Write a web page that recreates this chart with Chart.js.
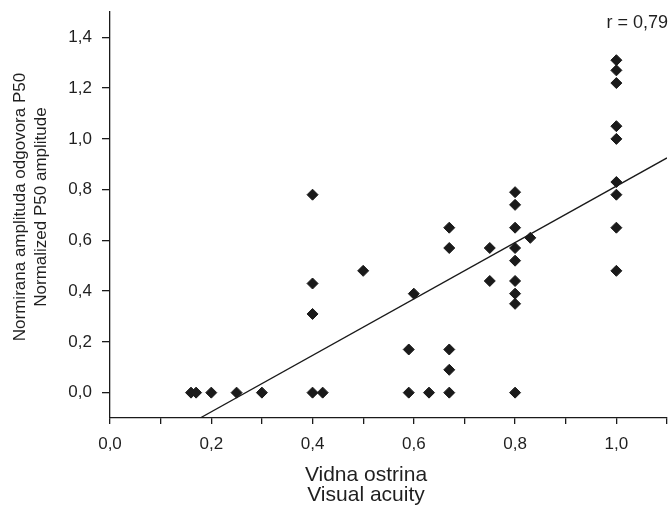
<!DOCTYPE html>
<html>
<head>
<meta charset="utf-8">
<script src="https://cdn.jsdelivr.net/npm/chart.js@4"></script>
<style>
  html, body { margin: 0; padding: 0; background: #fff; }
  #wrap { width: 670px; height: 506px; }
</style>
</head>
<body>
<div id="wrap"><canvas id="acuityChart" width="670" height="506"></canvas></div>
<script>
// visual acuity (x) vs normalized P50 amplitude (y)
const acuity = [0.16, 0.17, 0.20, 0.25, 0.30, 0.40, 0.42, 0.40, 0.40, 0.40, 0.50,
    0.59, 0.63, 0.67, 0.80, 0.59, 0.67, 0.67, 0.60, 0.67, 0.67, 0.75, 0.75,
    0.80, 0.80, 0.80, 0.80, 0.80, 0.80, 0.80, 0.80, 0.83,
    1.00, 1.00, 1.00, 1.00, 1.00, 1.00, 1.00, 1.00, 1.00];
const amplitude = [0, 0, 0, 0, 0, 0, 0, 0.78, 0.43, 0.31, 0.48,
    0, 0, 0, 0, 0.17, 0.17, 0.09, 0.39, 0.57, 0.65, 0.57, 0.44,
    0.79, 0.74, 0.65, 0.57, 0.52, 0.44, 0.39, 0.35, 0.61,
    1.31, 1.27, 1.22, 1.05, 1.00, 0.83, 0.78, 0.65, 0.48];

// regression line end points
const fitX = [0.178, 1.1];
const fitY = [-0.1, 0.925];

const xTicks = [0, 0.1, 0.2, 0.3, 0.4, 0.5, 0.6, 0.7, 0.8, 0.9, 1.0, 1.1];
const xTickLabels = ['0,0', '', '0,2', '', '0,4', '', '0,6', '', '0,8', '', '1,0', ''];
const yTicks = [0, 0.2, 0.4, 0.6, 0.8, 1.0, 1.2, 1.4];
const yTickLabels = ['0,0', '0,2', '0,4', '0,6', '0,8', '1,0', '1,2', '1,4'];

const xTitle = ['Vidna ostrina', 'Visual acuity'];
const yTitle = ['Normirana amplituda odgovora P50', 'Normalized P50 amplitude'];
const corrLabel = 'r = 0,79';

const ink = '#1a1a1a';
const textColor = '#1f1f1f';
const fontFamily = '"Liberation Sans", Arial, Helvetica, sans-serif';

const points = acuity.map((x, i) => ({ x: x, y: amplitude[i] }));
const fitLine = fitX.map((x, i) => ({ x: x, y: fitY[i] }));

// axis titles and the r value, placed like in the original figure
const textPlugin = {
    id: 'figureText',
    afterDraw(chart) {
        const ctx = chart.ctx;
        ctx.save();
        ctx.fillStyle = textColor;

        ctx.font = '18px ' + fontFamily;
        ctx.textAlign = 'right';
        ctx.textBaseline = 'alphabetic';
        ctx.fillText(corrLabel, 668, 28);

        ctx.font = '21px ' + fontFamily;
        ctx.textAlign = 'center';
        ctx.fillText(xTitle[0], 366, 480.5);
        ctx.fillText(xTitle[1], 366, 500.5);

        ctx.font = '17px ' + fontFamily;
        ctx.textBaseline = 'middle';
        ctx.translate(0, 207);
        ctx.rotate(-Math.PI / 2);
        ctx.fillText(yTitle[0], 0, 20);
        ctx.fillText(yTitle[1], 0, 41);
        ctx.restore();
    }
};

const ctx = document.getElementById('acuityChart').getContext('2d');
new Chart(ctx, {
    type: 'scatter',
    data: {
        datasets: [{
            label: 'P50',
            data: points,
            pointStyle: 'rectRot',
            pointRadius: 5.5,
            pointHoverRadius: 5.5,
            backgroundColor: ink,
            borderColor: ink,
            borderWidth: 1
        }, {
            label: 'fit',
            type: 'line',
            data: fitLine,
            showLine: true,
            pointRadius: 0,
            borderColor: ink,
            borderWidth: 1.3,
            fill: false,
            tension: 0
        }]
    },
    options: {
        responsive: false,
        animation: false,
        devicePixelRatio: 1,
        layout: { autoPadding: false, padding: { top: 12, right: 3, left: 0, bottom: 0 } },
        plugins: {
            legend: { display: false },
            tooltip: { enabled: false }
        },
        scales: {
            x: {
                type: 'linear',
                min: 0,
                max: 1.1,
                afterBuildTicks: scale => { scale.ticks = xTicks.map(v => ({ value: v })); },
                afterFit: scale => {
                    scale.height = 88;
                    scale.paddingLeft = 0;
                    scale.paddingRight = 0;
                },
                border: { display: true, color: ink, width: 1.3 },
                grid: { drawOnChartArea: false, drawTicks: true, tickLength: 6, color: ink, lineWidth: 1.3 },
                ticks: {
                    autoSkip: false,
                    maxRotation: 0,
                    padding: 10,
                    color: textColor,
                    font: { family: fontFamily, size: 17 },
                    callback: (value, index) => xTickLabels[index]
                }
            },
            y: {
                type: 'linear',
                min: -0.1,
                max: 1.5,
                afterBuildTicks: scale => { scale.ticks = yTicks.map(v => ({ value: v })); },
                afterFit: scale => {
                    scale.width = 110;
                    scale.paddingTop = 0;
                    scale.paddingBottom = 0;
                },
                border: { display: true, color: ink, width: 1.3 },
                grid: { drawOnChartArea: false, drawTicks: true, tickLength: 8, color: ink, lineWidth: 1.3 },
                ticks: {
                    padding: 10,
                    color: textColor,
                    font: { family: fontFamily, size: 17 },
                    callback: (value, index) => yTickLabels[index]
                }
            }
        }
    },
    plugins: [textPlugin]
});
</script>
</body>
</html>
